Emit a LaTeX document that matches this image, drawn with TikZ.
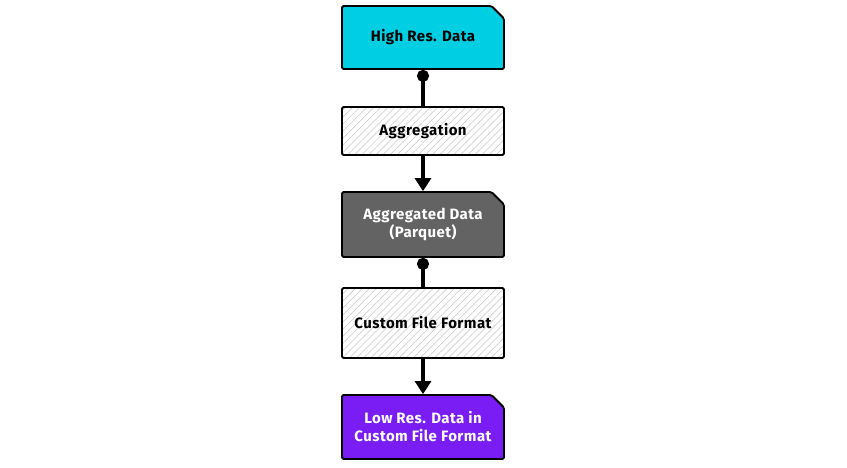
\documentclass[tikz,border=0pt]{standalone}
\usepackage{fontspec}
\setmainfont{Fira Sans}[LetterSpace=3]
\usetikzlibrary{shapes.misc,patterns.meta,arrows.meta}
\definecolor{hiRes}{HTML}{00CFE3}
\definecolor{aggData}{HTML}{636363}
\definecolor{loRes}{HTML}{7A1CF4}
\tikzset{
  boxfont/.style={font=\bfseries\fontsize{15}{18}\selectfont},
  databox/.style={chamfered rectangle, chamfered rectangle corners=north east,
    chamfered rectangle xsep=9pt, draw=black, line width=1.8pt, rounded corners=1.5pt,
    minimum width=162pt, align=center, boxfont},
  stepbox/.style={rectangle, draw=black, line width=1.8pt, rounded corners=1.5pt,
    minimum width=162pt, align=center, boxfont, preaction={fill=white},
    pattern={Lines[angle=45, distance=5pt, line width=0.7pt]}, pattern color=black!18},
  link/.style={line width=3.2pt, {Circle[length=12pt]}-},
  flow/.style={line width=3.2pt, -{Triangle[length=13pt,width=16pt]}}
}
\begin{document}
\begin{tikzpicture}[x=1pt,y=-1pt]
  \useasboundingbox (0,0) rectangle (847,467);
  \node[databox, fill=hiRes, minimum height=63pt] (hires) at (423,37.5) {High Res. Data};
  \node[stepbox, minimum height=48pt] (aggr) at (423,131) {Aggregation};
  \node[databox, fill=aggData, text=white, minimum height=65pt] (parquet) at (423,224.5) {Aggregated Data\\(Parquet)};
  \node[stepbox, minimum height=70pt] (custom) at (423,323) {Custom File Format};
  \node[databox, fill=loRes, text=white, minimum height=64pt] (lores) at (423,427) {Low Res. Data in\\Custom File Format};
  \draw[link] (hires.south) -- (aggr.north);
  \draw[flow] (aggr.south) -- (parquet.north);
  \draw[link] (parquet.south) -- (custom.north);
  \draw[flow] (custom.south) -- (lores.north);
\end{tikzpicture}
\end{document}
